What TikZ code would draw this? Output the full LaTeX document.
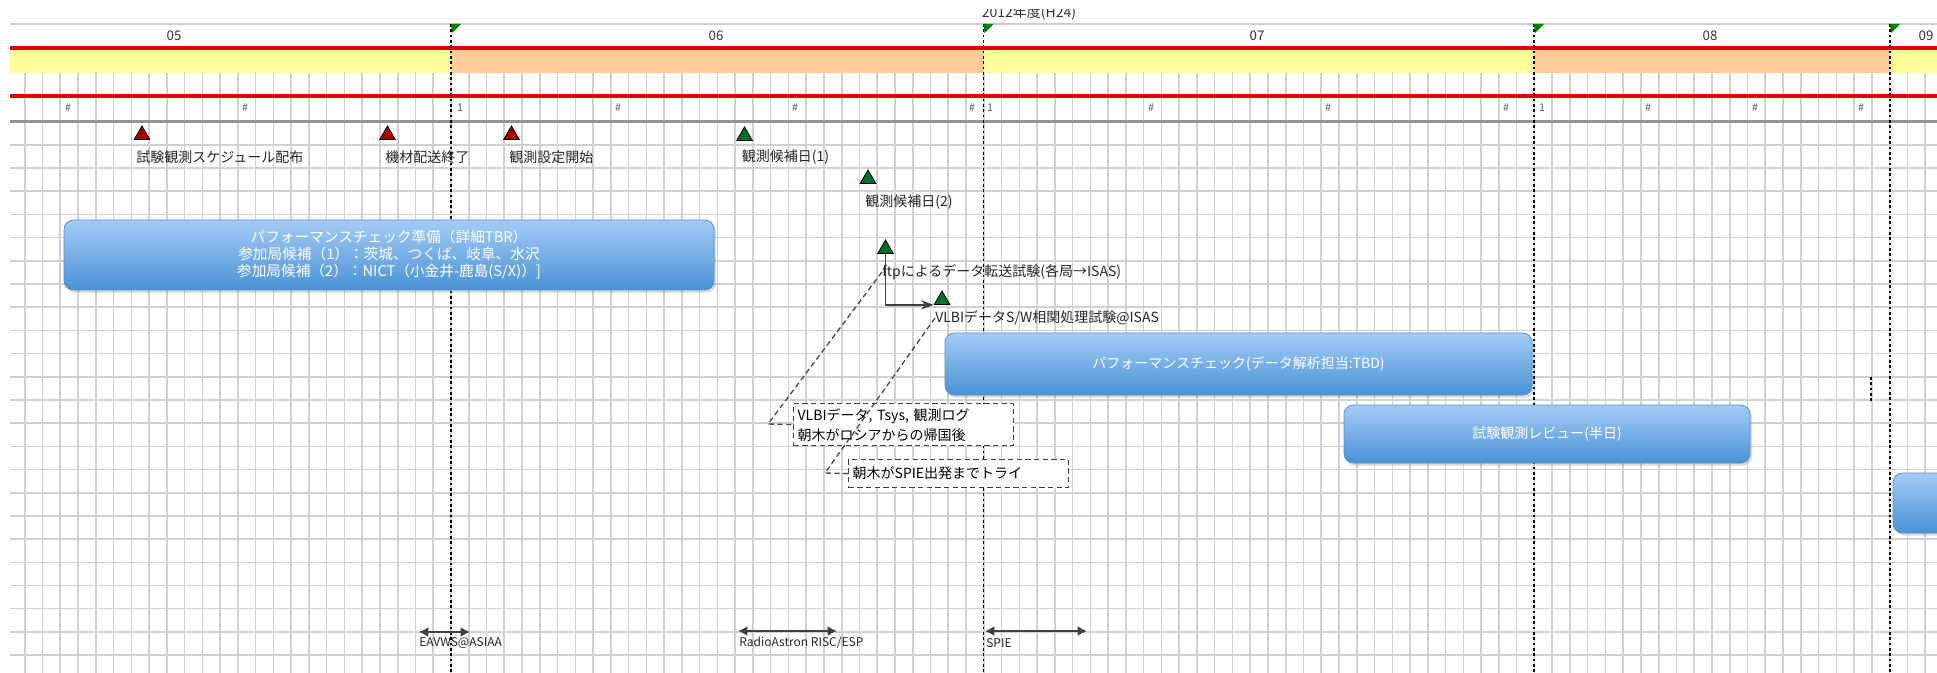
\documentclass[tikz,border=0pt]{standalone}
\usepackage{fontspec}
\setmainfont{Noto Sans CJK JP}
\usetikzlibrary{shapes.geometric, arrows.meta, shadows}
\definecolor{gridgray}{RGB}{208,208,208}
\definecolor{bandyellow}{RGB}{255,255,153}
\definecolor{bandorange}{RGB}{255,204,153}
\definecolor{barred}{RGB}{222,0,0}
\definecolor{boxtop}{RGB}{163,204,246}
\definecolor{boxbottom}{RGB}{74,146,212}
\definecolor{boxline}{RGB}{88,143,200}
\definecolor{mgreen}{RGB}{0,112,44}
\definecolor{mred}{RGB}{168,0,0}
\tikzset{>=Stealth, % arrow heads
gridline/.style={gridgray, line width=1.2pt}, % day columns and rows
redline/.style={barred, line width=2.4pt},
monthline/.style={black, line width=1.1pt, dash pattern=on 2pt off 2pt}, % month boundaries
flag/.style={fill=green!50!black},
month/.style={font=\fontsize{10}{12}\selectfont, text=black!80},
daymark/.style={font=\fontsize{8}{9}\selectfont, text=black!65},
milestone/.style={regular polygon, regular polygon sides=3, minimum size=13.5pt, inner sep=0pt, draw=black, line width=0.6pt},
redmile/.style={milestone, fill=mred},
greenmile/.style={milestone, fill=mgreen},
mlabel/.style={anchor=west, inner sep=0pt, font=\fontsize{10.5}{12}\selectfont, text=black!85},
task/.style={rounded corners=7pt, draw=boxline, line width=0.6pt, top color=boxtop, bottom color=boxbottom, text=white, align=center, font=\fontsize{10.5}{12.75}\selectfont, drop shadow={opacity=0.3, shadow xshift=1.5pt, shadow yshift=-2pt}}, % blue bars
note/.style={draw=black!75, line width=1pt, dash pattern=on 4pt off 2.5pt, fill=white, anchor=north west, align=left, inner xsep=3pt, inner ysep=0pt, text width=159pt, minimum width=165pt, font=\fontsize{10.5}{15}\selectfont},
leader/.style={black!70, line width=1pt, dash pattern=on 4pt off 2.5pt},
span/.style={{Latex[length=7pt,width=7.5pt]}-{Latex[length=7pt,width=7.5pt]}, black!75, line width=1.6pt},
evlabel/.style={anchor=west, inner sep=0pt, font=\fontsize{9}{11}\selectfont, text=black!85},
}

\begin{document}
\begin{tikzpicture}[x=0.75pt, y=-0.75pt]
\useasboundingbox (0,0) rectangle (1937,673);

% grid
\foreach \k in {-24,...,83} \draw[gridline] ({451+17.76*\k},73) -- ({451+17.76*\k},673);
\foreach \k in {1,...,23} \draw[gridline] (10,{121.7+23.19*\k}) -- (1937,{121.7+23.19*\k});

% fiscal year bands
\fill[bandyellow] (10,50) rectangle (451,73);
\fill[bandorange] (451,50) rectangle (983.5,73);
\fill[bandyellow] (983.5,50) rectangle (1534,73);
\fill[bandorange] (1534,50) rectangle (1890,73);
\fill[bandyellow] (1890,50) rectangle (1937,73);

\draw[gray!40, line width=1.1pt] (10,24) -- (1937,24);
\draw[redline] (10,48) -- (1937,48);
\draw[redline] (10,96) -- (1937,96);
\draw[black!42, line width=1.9pt] (10,121.7) -- (1937,121.7);

\begin{scope}
\clip (900,10) rectangle (1200,24);
\node[month, font=\fontsize{10.5}{12}\selectfont] (fy) at (1029,13) {2012年度(H24)};
\end{scope}

\node[month] (m05) at (174,36) {05};
\node[month] (m06) at (716,36) {06};
\node[month] (m07) at (1257,36) {07};
\node[month] (m08) at (1710,36) {08};
\node[month] (m09) at (1926,36) {09};

\foreach \x [count=\i] in {68,245,618,795,972,1151,1328,1506,1648,1755,1861}
  \node[daymark] (h\i) at (\x,108) {\#};
\node[daymark] (d1) at (460,108) {1};
\node[daymark] (d2) at (990,108) {1};
\node[daymark] (d3) at (1542,108) {1};

\foreach \x in {451,983.5,1534,1890} {
  \draw[monthline] (\x,24) -- (\x,673);
  \fill[flag] (\x,24) -- ++(10,0) -- ++(-9,9) -- cycle;
}
\draw[monthline] (1871,377) -- (1871,401);

% milestones
\node[redmile] (r1) at (142,135) {};
\node[redmile] (r2) at (387.5,135) {};
\node[redmile] (r3) at (511.5,135) {};
\node[greenmile] (g1) at (744.5,136) {};
\node[greenmile] (g2) at (868,179) {};
\node[greenmile] (ftp) at (885.5,249) {};
\node[greenmile] (vlbi) at (942,300) {};

\node[mlabel] (r1lbl) at (136,157) {試験観測スケジュール配布};
\node[mlabel] (r2lbl) at (385,157) {機材配送終了};
\node[mlabel] (r3lbl) at (509,157) {観測設定開始};
\node[mlabel] (g1lbl) at (741.5,157) {観測候補日(1)};
\node[mlabel] (g2lbl) at (865,202) {観測候補日(2)};
\node[mlabel] (ftplbl) at (882,272) {ftpによるデータ転送試験(各局→ISAS)};
\node[mlabel] (vlbilbl) at (935,318) {VLBIデータS/W相関処理試験@ISAS};

\draw[->, black!75, line width=1.4pt] (ftp.south) |- (vlbi.corner 2);

% tasks
\node[task, font=\fontsize{11}{12.75}\selectfont, minimum width=487.5pt, minimum height=52.5pt] (prep) at (389,255) {パフォーマンスチェック準備（詳細TBR）\\参加局候補（1）：茨城、つくば、岐阜、水沢\\参加局候補（2）：NICT（小金井-鹿島(S/X)）]};
\node[task, minimum width=440.25pt, minimum height=46.5pt] (perf) at (1238.5,364) {パフォーマンスチェック(データ解析担当:TBD)};
\node[task, minimum width=304.5pt, minimum height=43.5pt] (review) at (1547,434) {試験観測レビュー(半日)};
\node[task, minimum width=150pt, minimum height=45pt] (next) at (1993,503) {};

% notes
\node[note, minimum height=31.5pt] (noteA) at (793,403) {VLBIデータ, Tsys, 観測ログ\\朝木がロシアからの帰国後};
\node[note, minimum height=21pt] (noteB) at (848,459) {朝木がSPIE出発までトライ};
\draw[leader] (ftplbl.west) -- (768,424) -- (noteA.west);
\draw[leader] (vlbilbl.west) -- (825,473) -- (noteB.west);

% events
\coordinate (e1a) at (419,632); \coordinate (e1b) at (470,632);
\coordinate (e2a) at (738,631); \coordinate (e2b) at (837,631);
\coordinate (e3a) at (985,631); \coordinate (e3b) at (1087,631);
\draw[span] (e1a) -- (e1b);
\draw[span] (e2a) -- (e2b);
\draw[span] (e3a) -- (e3b);
\node[evlabel] (e1lbl) at (419,643) {EAVWS@ASIAA};
\node[evlabel] (e2lbl) at (739,643) {RadioAstron RISC/ESP};
\node[evlabel] (e3lbl) at (986,643) {SPIE};

\end{tikzpicture}
\end{document}
